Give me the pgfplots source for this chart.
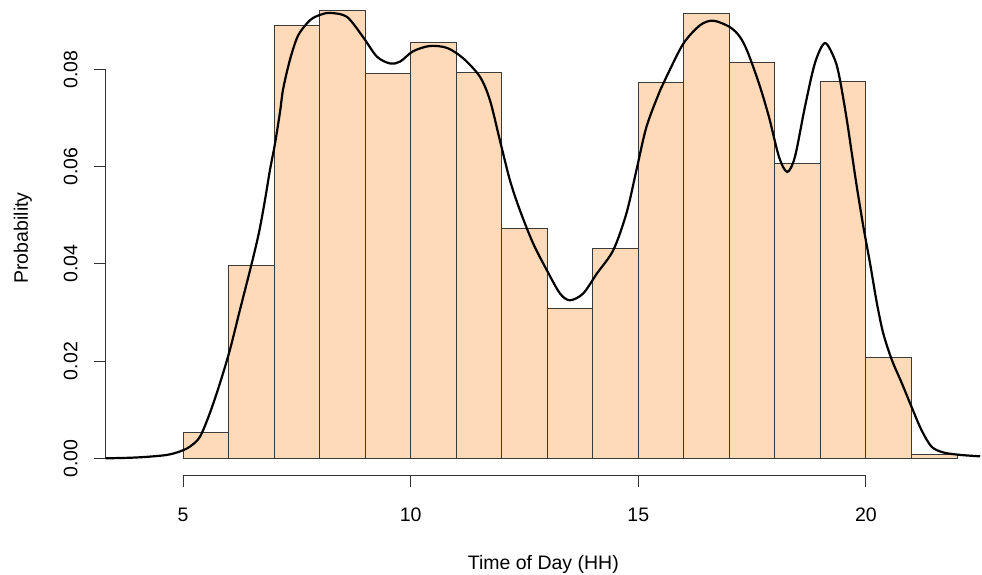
\documentclass[border=0pt]{standalone}
\usepackage{pgfplots}
\pgfplotsset{compat=1.18}
\usepackage{fontspec}
\setmainfont{Liberation Sans}
\definecolor{peach}{HTML}{FFDAB9}
\definecolor{axgray}{HTML}{333333}
\definecolor{barline}{HTML}{3A3A3A}
\begin{document}
\fontsize{19.5}{22}\selectfont
\begin{tikzpicture}
\useasboundingbox (0,0) rectangle (982pt,575pt);
\begin{axis}[
  at={(105.7pt,99pt)}, anchor=south west,
  scale only axis, width=875.3pt, height=476pt,
  xmin=3.302, xmax=22.527, ymin=-0.00364, ymax=0.09426,
  axis x line*=bottom, axis y line*=left,
  axis line style={draw=none},
  clip=false,
  scaled y ticks=false, scaled x ticks=false,
  xtick={5,10,15,20}, ytick={0,0.02,0.04,0.06,0.08},
  tick align=outside, major tick length=11.5pt,
  tick style={axgray, line width=1pt},
  /pgf/number format/assume math mode=true,
  every tick label/.append style={font=\fontsize{19.5}{22}\selectfont},
  xticklabel style={anchor=base, inner sep=0pt, yshift=-34pt},
  yticklabel={\rotatebox{90}{\pgfmathprintnumber[fixed,fixed zerofill,precision=2]{\tick}}},
  yticklabel style={anchor=east, inner sep=0pt, xshift=-16.5pt},
  xlabel={Time of Day (HH)}, ylabel={Probability},
  every axis label/.append style={font=\fontsize{19.5}{22}\selectfont, inner sep=0pt},
  xlabel style={at={(axis description cs:0.5,-0.1954)}, anchor=base},
  ylabel style={at={(axis description cs:-0.0888,0.5)}, anchor=base},
]
\addplot[ybar interval, fill=peach, draw=barline, line width=1pt] coordinates {
(5,0.00535) (6,0.0396) (7,0.0891) (8,0.0920) (9,0.0791) (10,0.0856) (11,0.0793)
(12,0.0472) (13,0.0309) (14,0.0432) (15,0.0773) (16,0.0914) (17,0.0815)
(18,0.0606) (19,0.0775) (20,0.0208) (21,0.00088) (22,0.00088)};
\addplot[black, line width=2.2pt, smooth, tension=0.5] coordinates {
(3.30,0.0000) (3.8,0.0001) (4.21,0.0003) (4.65,0.0007) (4.93,0.0014) (5.15,0.0024)
(5.37,0.0044) (5.59,0.0093) (5.81,0.0154) (6.03,0.0223) (6.25,0.0305) (6.51,0.0401)
(6.67,0.0465) (6.80,0.0531) (6.91,0.0593) (7.02,0.0647) (7.13,0.0712) (7.20,0.0760)
(7.35,0.0820) (7.53,0.0870) (7.79,0.0901) (8.01,0.0912) (8.23,0.0916) (8.60,0.0908)
(8.95,0.0867) (9.26,0.0826) (9.55,0.0812) (9.77,0.0816) (10.05,0.0837) (10.42,0.0848)
(10.80,0.0844) (11.15,0.0823) (11.52,0.0785) (11.74,0.0737) (11.96,0.0654) (12.18,0.0572)
(12.40,0.0510) (12.69,0.0442) (12.99,0.0387) (13.28,0.0339) (13.50,0.0325) (13.79,0.0339)
(14.09,0.0380) (14.45,0.0428) (14.74,0.0504) (14.96,0.0593) (15.18,0.0682) (15.48,0.0757)
(15.62,0.0785) (15.99,0.0853) (16.36,0.0891) (16.65,0.0900) (17.01,0.0887) (17.23,0.0867)
(17.40,0.0836) (17.65,0.0771) (17.87,0.0702) (18.09,0.0620) (18.27,0.0589) (18.44,0.0620)
(18.66,0.0723) (18.88,0.0813) (19.10,0.0854) (19.32,0.0819) (19.43,0.0778) (19.58,0.0696)
(19.69,0.0627) (19.80,0.0558) (19.94,0.0478) (20.09,0.0401) (20.24,0.0319) (20.38,0.0257)
(20.57,0.0202) (20.79,0.0154) (21.00,0.0106) (21.22,0.0058) (21.44,0.0024) (21.70,0.0012)
(22.07,0.0007) (22.51,0.0004)};
\draw[axgray, line width=1pt] (axis cs:3.302,0) -- (axis cs:3.302,0.08);
\draw[axgray, line width=1pt] (axis cs:5,-0.00364) -- (axis cs:20,-0.00364);
\end{axis}
\end{tikzpicture}
\end{document}
